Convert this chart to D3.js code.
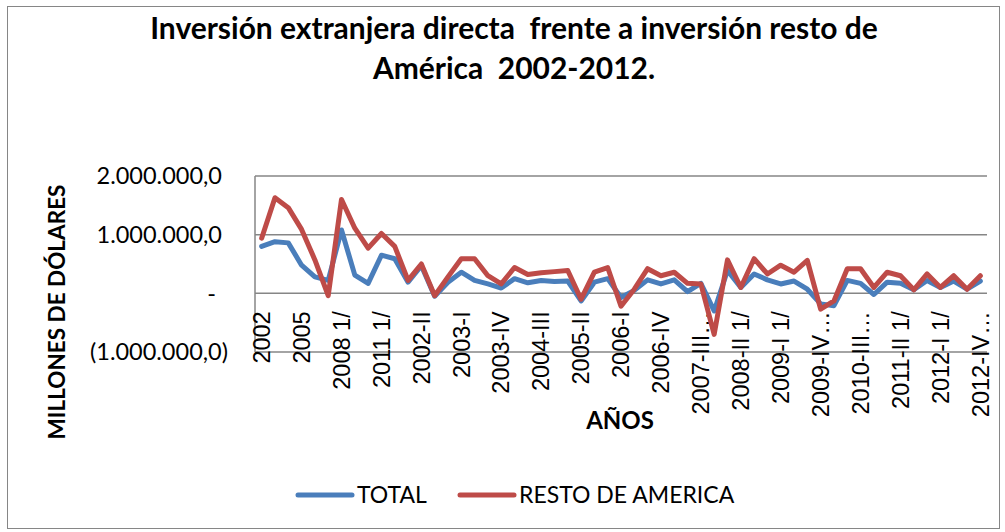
<!DOCTYPE html>
<html lang="es">
<head>
<meta charset="UTF-8">
<title>Inversión extranjera directa</title>
<script src="https://cdn.jsdelivr.net/npm/d3@7"></script>
<style>
  html, body { margin: 0; padding: 0; background: #fff; }
  svg { display: block; font-family: Lato, "Liberation Sans", sans-serif; }
  .pre { white-space: pre; }
</style>
</head>
<body>
<svg id="chart" width="1005" height="532"></svg>
<script>
// categorias: anuales y luego trimestrales
const categories = [
  "2002", "2003", "2004", "2005", "2006", "2007", "2008 1/", "2009 1/", "2010 1/", "2011 1/", "2012 1/",
  "2002-I", "2002-II", "2002-III", "2002-IV",
  "2003-I", "2003-II", "2003-III", "2003-IV",
  "2004-I", "2004-II", "2004-III", "2004-IV",
  "2005-I", "2005-II", "2005-III", "2005-IV",
  "2006-I", "2006-II", "2006-III", "2006-IV",
  "2007-I", "2007-II", "2007-III…", "2007-IV…",
  "2008-I 1/", "2008-II 1/", "2008-III 1/", "2008-IV 1/",
  "2009-I 1/", "2009-II 1/", "2009-III 1/", "2009-IV…",
  "2010-I 1/", "2010-II 1/", "2010-III…", "2010-IV 1/",
  "2011-I 1/", "2011-II 1/", "2011-III 1/", "2011-IV 1/",
  "2012-I 1/", "2012-II 1/", "2012-III 1/", "2012-IV…"
];

// valores
const total = [
  800000, 880000, 860000, 480000, 280000, 220000, 1080000, 310000, 170000, 650000, 590000,
  190000, 470000, -50000, 190000,
  360000, 220000, 160000, 90000,
  250000, 180000, 220000, 200000,
  210000, -130000, 190000, 250000,
  -70000, 50000, 230000, 160000,
  230000, 30000, 170000, -300000,
  390000, 100000, 330000, 230000,
  160000, 210000, 70000, -180000,
  -210000, 220000, 170000, -20000,
  190000, 170000, 60000, 220000,
  100000, 210000, 70000, 210000
];

const resto = [
  940000, 1630000, 1460000, 1090000, 570000, -40000, 1600000, 1110000, 770000, 1020000, 800000,
  220000, 500000, -40000, 280000,
  590000, 590000, 300000, 160000,
  440000, 320000, 350000, 370000,
  390000, -100000, 360000, 440000,
  -220000, 70000, 420000, 300000,
  360000, 170000, 160000, -700000,
  570000, 100000, 590000, 330000,
  480000, 360000, 560000, -270000,
  -130000, 420000, 420000, 100000,
  360000, 300000, 60000, 330000,
  100000, 300000, 70000, 300000
];

const yTicks = [-1000000, 0, 1000000, 2000000];

const series = [
  { name: "TOTAL", values: total, color: "#4A7EBB" },
  { name: "RESTO DE AMERICA", values: resto, color: "#BE4B48" }
];

const svg = d3.select("#chart");

// ajusta el tamaño de letra a un ancho dado
function fitWidth(sel, width) {
  const node = sel.node();
  const size = +sel.attr("font-size");
  const w = node.getComputedTextLength();
  sel.attr("font-size", (size * width / w).toFixed(2));
}

// marco del grafico
svg.append("rect")
  .attr("x", 7.5).attr("y", 6.5)
  .attr("width", 992).attr("height", 522)
  .attr("fill", "#fff")
  .attr("stroke", "#868686");

const plot = { left: 255, right: 987, top: 176, bottom: 352 };

const x = d3.scaleBand()
  .domain(categories)
  .range([plot.left, plot.right])
  .padding(0);

const y = d3.scaleLinear()
  .domain([-1000000, 2000000])
  .range([plot.bottom, plot.top]);

const fmt = d3.formatLocale({ decimal: ",", thousands: ".", grouping: [3], currency: ["", ""] }).format(",.1f");
function yLabel(v) {
  if (v === 0) return "-";
  if (v < 0) return "(" + fmt(-v) + ")";
  return fmt(v);
}

// lineas de division
svg.append("g")
  .selectAll("line")
  .data(yTicks)
  .join("line")
  .attr("x1", plot.left).attr("x2", plot.right)
  .attr("y1", d => y(d)).attr("y2", d => y(d))
  .attr("stroke", "#868686")
  .attr("stroke-width", 1.5);

// eje vertical
svg.append("line")
  .attr("x1", plot.left).attr("x2", plot.left)
  .attr("y1", plot.top).attr("y2", plot.bottom)
  .attr("stroke", "#868686")
  .attr("stroke-width", 1.5);

// etiquetas eje y
svg.append("g")
  .selectAll("text")
  .data(yTicks)
  .join("text")
  .attr("x", d => d < 0 ? 228 : (d === 0 ? 216 : 222))
  .attr("y", d => y(d))
  .attr("dy", "0.35em")
  .attr("text-anchor", "end")
  .attr("font-size", 23.5)
  .attr("fill", "#000")
  .text(yLabel);

// eje x en cero
const xAxis = d3.axisBottom(x)
  .tickValues(categories.filter((d, i) => i % 3 === 0))
  .tickSize(0)
  .tickPadding(0);

const gx = svg.append("g")
  .attr("transform", `translate(0,${y(0)})`)
  .call(xAxis);
gx.select(".domain").remove();
gx.selectAll("text")
  .attr("font-family", null)
  .attr("font-size", 23.5)
  .attr("fill", "#000")
  .attr("text-anchor", "end")
  .attr("transform", "rotate(-90)")
  .attr("x", -18)
  .attr("y", 0)
  .attr("dy", "0.35em");

// lineas de las series
const line = d3.line()
  .x((d, i) => x(categories[i]) + x.bandwidth() / 2)
  .y(d => y(d));

svg.append("g")
  .selectAll("path")
  .data(series)
  .join("path")
  .attr("d", d => line(d.values))
  .attr("fill", "none")
  .attr("stroke", d => d.color)
  .attr("stroke-width", 5)
  .attr("stroke-linejoin", "round")
  .attr("stroke-linecap", "round");

// titulo
const t1 = svg.append("text")
  .attr("class", "pre")
  .attr("x", 514).attr("y", 39)
  .attr("text-anchor", "middle")
  .attr("font-weight", "bold")
  .attr("font-size", 24)
  .text("Inversión extranjera directa  frente a inversión resto de");
fitWidth(t1, 728);

svg.append("text")
  .attr("class", "pre")
  .attr("x", 514).attr("y", 79)
  .attr("text-anchor", "middle")
  .attr("font-weight", "bold")
  .attr("font-size", t1.attr("font-size"))
  .text("América  2002-2012.");

svg.append("text")
  .attr("transform", "translate(65,312) rotate(-90)")
  .attr("text-anchor", "middle")
  .attr("font-weight", "bold")
  .attr("font-size", 22.5)
  .text("MILLONES DE DÓLARES");

svg.append("text")
  .attr("x", 620).attr("y", 429)
  .attr("text-anchor", "middle")
  .attr("font-weight", "bold")
  .attr("font-size", 24)
  .text("AÑOS");

// leyenda
const legendX = [298, 460];
const lg = svg.append("g")
  .selectAll("g")
  .data(series)
  .join("g")
  .attr("transform", (d, i) => `translate(${legendX[i]},495)`);
lg.append("line")
  .attr("x1", 0).attr("x2", 54)
  .attr("stroke", d => d.color)
  .attr("stroke-width", 5)
  .attr("stroke-linecap", "round");
lg.append("text")
  .attr("x", 59)
  .attr("dy", "0.35em")
  .attr("font-size", 23)
  .text(d => d.name);
</script>
</body>
</html>
